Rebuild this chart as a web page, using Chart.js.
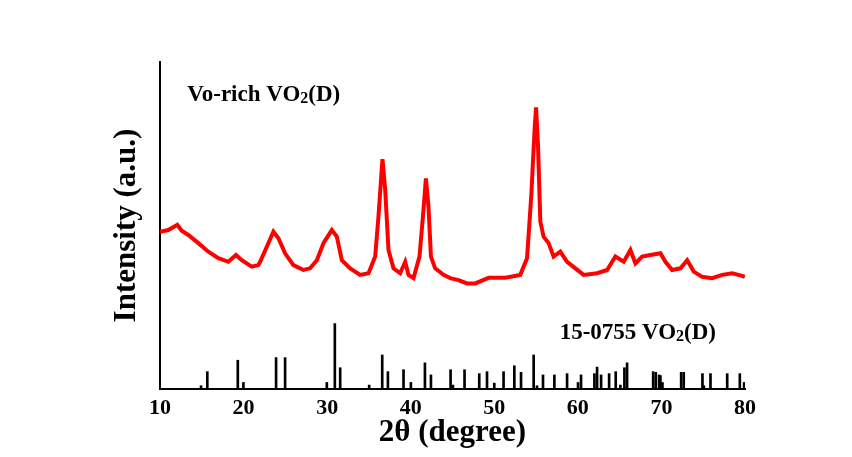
<!DOCTYPE html>
<html>
<head>
<meta charset="utf-8">
<script src="https://cdn.jsdelivr.net/npm/chart.js@4.4.1/dist/chart.umd.min.js"></script>
<style>
  html, body { margin: 0; padding: 0; background: #fff; }
  canvas { display: block; }
</style>
</head>
<body>
<canvas id="xrd" width="852" height="457"></canvas>
<script>
// measured pattern, 2theta (degree) vs intensity (a.u.)
const twoTheta = [10.00, 10.99, 12.07, 12.60, 13.39, 14.59, 15.78, 16.98, 18.18, 19.10, 19.78, 20.98,
  21.77, 21.98, 22.78, 23.57, 24.17, 24.97, 25.96, 27.16, 27.96, 28.77, 29.56, 30.56, 31.16, 31.76,
  32.75, 33.95, 34.95, 35.75, 36.14, 36.62, 36.95, 37.34, 37.94, 38.74, 39.34, 39.74, 40.34, 41.05,
  41.46, 41.82, 42.13, 42.42, 42.93, 43.93, 44.73, 45.72, 46.73, 47.72, 49.32, 51.32, 53.11, 53.92,
  54.43, 54.83, 55.00, 55.23, 55.51, 55.90, 56.50, 57.10, 57.90, 58.71, 59.70, 60.69, 62.30, 63.50,
  64.49, 65.49, 66.29, 66.89, 67.69, 68.68, 69.88, 70.48, 71.28, 72.28, 73.08, 73.87, 74.87, 76.07,
  77.27, 78.47, 79.66, 79.98];
const intensity = [48.1, 48.6, 50.2, 48.4, 47.1, 44.6, 42.0, 40.0, 38.9, 41.0, 39.4, 37.4,
  37.9, 38.9, 43.5, 48.1, 46.1, 41.5, 37.9, 36.4, 36.9, 39.4, 44.6, 48.6, 46.6, 39.4,
  36.9, 34.9, 35.4, 40.5, 52.7, 70.3, 60.9, 42.5, 36.9, 35.4, 38.9, 34.9, 33.9, 40.5,
  52.7, 64.4, 55.7, 40.5, 36.9, 34.9, 33.9, 33.3, 32.3, 32.3, 34.0, 34.0, 34.9, 40.0,
  59.3, 79.7, 86.1, 74.6, 51.2, 46.6, 44.6, 40.5, 42.0, 38.9, 36.9, 34.9, 35.4, 36.4,
  40.5, 38.9, 42.5, 38.4, 40.5, 41.0, 41.5, 38.9, 36.4, 36.9, 39.4, 35.9, 34.3, 33.9,
  34.9, 35.4, 34.6, 34.3];

// reference card 15-0755 VO2(D)
const refPos = [14.91, 15.66, 19.31, 19.98, 23.89, 24.97, 29.96, 30.92, 31.56, 35.03, 36.59, 37.27,
  39.14, 40.02, 41.70, 42.42, 44.77, 45.05, 46.44, 48.20, 49.13, 50.00, 51.11, 52.40, 53.20, 54.71,
  55.11, 55.83, 57.19, 58.71, 60.02, 60.38, 61.98, 62.30, 62.78, 63.74, 64.53, 65.09, 65.57, 65.89,
  69.01, 69.32, 69.72, 69.88, 70.12, 72.36, 72.67, 74.91, 75.07, 75.87, 77.87, 79.38, 79.90];
const refHeight = [1.0, 5.3, 8.8, 2.0, 9.6, 9.6, 2.0, 20.0, 6.5, 1.2, 10.4, 5.3,
  5.9, 2.0, 8.0, 4.3, 5.9, 1.2, 5.9, 4.7, 5.3, 1.8, 5.3, 7.1, 5.1, 10.4,
  1.0, 4.3, 4.3, 4.7, 2.0, 4.3, 4.7, 6.7, 4.3, 4.7, 5.3, 1.2, 6.5, 8.0,
  5.3, 5.1, 4.3, 4.1, 2.0, 5.1, 5.1, 4.7, 1.0, 4.7, 4.7, 4.7, 2.0];

const xTicks = [10, 20, 30, 40, 50, 60, 70, 80];

// text labels in the plot: [main, subscript, tail, x, y]
const labels = [
  ['Vo-rich VO', '2', '(D)', 13.26, 88.2],
  ['15-0755 VO', '2', '(D)', 57.82, 15.2]
];

const serif = '"Liberation Serif", "Times New Roman", serif';

const labelPlugin = {
  id: 'labelPlugin',
  afterDatasetsDraw(chart) {
    const ctx = chart.ctx;
    const sx = chart.scales.x, sy = chart.scales.y;
    ctx.save();
    ctx.fillStyle = '#000';
    ctx.textBaseline = 'alphabetic';
    labels.forEach(l => {
      let x = sx.getPixelForValue(l[3]);
      const y = sy.getPixelForValue(l[4]);
      ctx.font = 'bold 23px ' + serif;
      ctx.fillText(l[0], x, y);
      x += ctx.measureText(l[0]).width;
      ctx.font = 'bold 16px ' + serif;
      ctx.fillText(l[1], x, y + 2);
      x += ctx.measureText(l[1]).width;
      ctx.font = 'bold 23px ' + serif;
      ctx.fillText(l[2], x, y);
    });
    ctx.restore();
  }
};

new Chart(document.getElementById('xrd'), {
  data: {
    datasets: [{
      type: 'line',
      data: twoTheta.map((t, i) => ({x: t, y: intensity[i]})),
      borderColor: '#ff0000',
      borderWidth: 4,
      pointRadius: 0,
      tension: 0,
      fill: false
    }, {
      type: 'bar',
      data: refPos.map((t, i) => ({x: t, y: refHeight[i]})),
      backgroundColor: '#000',
      barThickness: 2
    }]
  },
  options: {
    responsive: false,
    animation: false,
    layout: { padding: { left: 0, top: 62, right: 107, bottom: 0 } },
    plugins: { legend: { display: false }, tooltip: { enabled: false } },
    scales: {
      x: {
        type: 'linear',
        offset: false,
        min: 10, max: 80,
        afterBuildTicks: s => { s.ticks = xTicks.map(v => ({value: v})); },
        afterFit: s => { s.height = 68; },
        grid: { display: false, drawTicks: false, offset: false },
        border: { display: true, color: '#000', width: 2 },
        ticks: { color: '#000', padding: 6, maxRotation: 0, font: { family: serif, size: 22, weight: 'bold' } },
        title: { display: true, text: '2θ (degree)', color: '#000', padding: { top: 0, bottom: 5 },
          font: { family: serif, size: 31, weight: 'bold' } }
      },
      y: {
        min: 0, max: 100,
        afterFit: s => { s.width = 160; },
        grid: { display: false, drawTicks: false },
        border: { display: true, color: '#000', width: 2 },
        ticks: { display: false },
        title: { display: true, text: 'Intensity (a.u.)', color: '#000', padding: { top: 108, bottom: 0 },
          font: { family: serif, size: 31, weight: 'bold' } }
      }
    }
  },
  plugins: [labelPlugin]
});
</script>
</body>
</html>
